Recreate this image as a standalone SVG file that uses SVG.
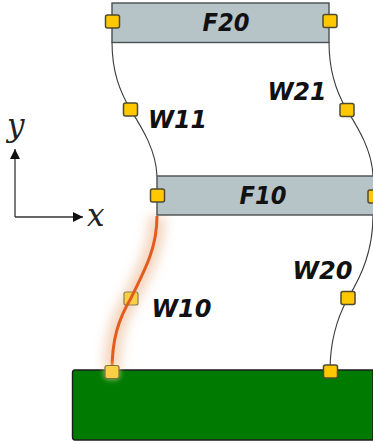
<svg xmlns="http://www.w3.org/2000/svg" width="373" height="444" viewBox="0 0 373 444">
<defs>
<style>
.frame{fill:#b6c4c7;stroke:#4a4f50;stroke-width:1.4}
.wire{fill:none;stroke:#3a3a3a;stroke-width:1.1}
.h{fill:#ffc800;stroke:#4f4a30;stroke-width:1.5}
.lbl{font-family:"DejaVu Sans",sans-serif;font-weight:bold;font-style:italic;font-size:25.5px;fill:#111;text-anchor:middle}
.math{font-family:"DejaVu Serif",serif;font-style:italic;font-size:31px;fill:#222}
.axis{fill:none;stroke:#333;stroke-width:1.3}
</style>
<marker id="arr" markerUnits="userSpaceOnUse" markerWidth="11" markerHeight="10" refX="10" refY="5" orient="auto"><path d="M0 0L10 5L0 10Z" fill="#111"/></marker>
<filter id="glow" x="-200%" y="-20%" width="500%" height="140%"><feGaussianBlur stdDeviation="6"/></filter>
<filter id="glow2" x="-100%" y="-100%" width="300%" height="300%"><feGaussianBlur stdDeviation="3"/></filter>
</defs>
<rect width="373" height="444" fill="#fff"/>
<g id="axes">
<path class="axis" d="M15 217V149" marker-end="url(#arr)"/>
<path class="axis" d="M15 217H83" marker-end="url(#arr)"/>
<text class="math" x="7" y="136">y</text>
<text class="math" x="87" y="226">x</text>
</g>
<g id="connectors">
<path class="wire" d="M112 42C112 72 120 92 130.500 109.500C142 128 156 150 157 176"/>
<path class="wire" d="M329 42C329 72 336 92 347 110C358 128 372 150 373 176"/>
<path class="wire" d="M373 215C373 250 362 275 348 298C338 316 330 340 330 371"/>
<path d="M157 216C157 246 147 266 131 298C118 320 112 340 112 371" fill="none" stroke="#e8a878" stroke-width="16" opacity="0.5" filter="url(#glow)"/>
</g>
<g id="ground">
<path d="M75 370H373V440H75Q72.500 440 72.500 437V373Q72.500 370 75 370Z" fill="#007a00" stroke="#1c1c1c" stroke-width="1.4"/>
</g>
<g id="F20">
<rect class="frame" x="112" y="3" width="217" height="39.500"/>
<text class="lbl" x="226" y="31" textLength="47" lengthAdjust="spacingAndGlyphs">F20</text>
</g>
<g id="F10">
<rect class="frame" x="157" y="176" width="220" height="39"/>
<text class="lbl" x="263" y="204" textLength="47" lengthAdjust="spacingAndGlyphs">F10</text>
</g>
<g id="W11"><rect class="h" x="123.500" y="103" width="14" height="13" rx="2"/><text class="lbl" x="177.500" y="128" textLength="59" lengthAdjust="spacingAndGlyphs">W11</text></g>
<g id="W21"><rect class="h" x="340" y="103.500" width="14" height="13" rx="2"/><text class="lbl" x="297" y="100" textLength="59" lengthAdjust="spacingAndGlyphs">W21</text></g>
<g id="W20"><rect class="h" x="341" y="291.500" width="14" height="13" rx="2"/><text class="lbl" x="322.500" y="279" textLength="60" lengthAdjust="spacingAndGlyphs">W20</text></g>
<g id="W10"><rect x="124" y="292" width="14" height="13" rx="2" fill="#fbcf45" stroke="#8a8050" stroke-width="1.2"/><text class="lbl" x="181.500" y="317" textLength="60" lengthAdjust="spacingAndGlyphs">W10</text></g>
<g id="highlight">
<path id="W10-wire" d="M157 216C157 246 147 266 131 298C118 320 112 340 112 371" fill="none" stroke="#e25c1e" stroke-width="3"/>
</g>
<g id="handles">
<rect class="h" x="105.500" y="15" width="14" height="13" rx="2"/>
<rect class="h" x="323" y="14.500" width="14" height="13" rx="2"/>
<rect class="h" x="150.500" y="189" width="14" height="13" rx="2"/>
<rect class="h" x="368" y="190" width="14" height="13" rx="2"/>
<rect x="105" y="365.500" width="14" height="13" rx="2" fill="#fff0b0" opacity="0.8" filter="url(#glow2)"/>
<rect x="105" y="365.500" width="14" height="13" rx="2" fill="#fbcf45" stroke="#7a7040" stroke-width="1.2"/>
<rect class="h" x="323.500" y="365" width="14" height="13" rx="2"/>
</g>
</svg>
